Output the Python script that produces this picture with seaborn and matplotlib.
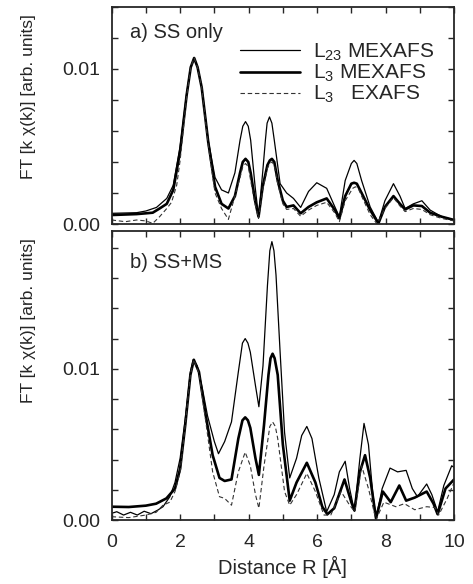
import matplotlib
matplotlib.use('Agg')
import matplotlib.pyplot as plt
import seaborn as sns
from matplotlib.ticker import MultipleLocator, FixedLocator, FixedFormatter

# --- a) SS only ---
a_l23_x = [0, 0.73, 1.0, 1.31, 1.61, 1.8, 2.0, 2.19, 2.31, 2.41, 2.51, 2.63, 2.82, 3.02, 3.21, 3.41, 3.6,
           3.75, 3.83, 3.91, 3.99, 4.06, 4.19, 4.29, 4.41, 4.49, 4.54, 4.61, 4.68, 4.75, 4.92, 5.11, 5.31,
           5.52, 5.75, 5.99, 6.28, 6.52, 6.65, 6.82, 7.0, 7.08, 7.16, 7.3, 7.55, 7.79, 7.98, 8.23, 8.42,
           8.57, 8.81, 9.06, 9.3, 9.64, 10]
a_l23_y = [0.00069, 0.00073, 0.00084, 0.00107, 0.00165, 0.0025, 0.005, 0.0084, 0.0101, 0.0107, 0.0101,
           0.0088, 0.0054, 0.003, 0.0022, 0.002, 0.0033, 0.0054, 0.0063, 0.0066, 0.0063, 0.0054, 0.0024,
           0.00047, 0.0033, 0.0054, 0.0065, 0.0069, 0.0065, 0.0054, 0.0026, 0.002, 0.00165, 0.00107, 0.0021,
           0.00266, 0.0023, 0.0011, 0.00047, 0.0028, 0.0039, 0.0041, 0.0039, 0.0028, 0.0011, 0.0001, 0.0015,
           0.0026, 0.0018, 0.001, 0.0013, 0.0015, 0.0009, 0.00047, 0.00026]

a_l3m_x = [0, 0.73, 1.0, 1.2, 1.4, 1.61, 1.8, 2.0, 2.19, 2.31, 2.41, 2.51, 2.63, 2.82, 3.02, 3.21, 3.41,
           3.6, 3.75, 3.83, 3.91, 3.99, 4.06, 4.19, 4.29, 4.41, 4.55, 4.62, 4.68, 4.75, 4.85, 5.0, 5.11,
           5.31, 5.52, 5.75, 5.99, 6.28, 6.52, 6.65, 6.82, 7.0, 7.08, 7.16, 7.3, 7.55, 7.79, 7.98, 8.23,
           8.42, 8.57, 8.81, 9.06, 9.3, 9.64, 10]
a_l3m_y = [0.00058, 0.00064, 0.00069, 0.00073, 0.001, 0.0013, 0.0022, 0.0047, 0.0083, 0.0101, 0.0107,
           0.0101, 0.0088, 0.0053, 0.0024, 0.0013, 0.001, 0.0018, 0.0033, 0.004, 0.0042, 0.004, 0.0033,
           0.0015, 0.00047, 0.0024, 0.0038, 0.0041, 0.0042, 0.004, 0.0028, 0.0015, 0.0011, 0.0012, 0.00069,
           0.0011, 0.0014, 0.00165, 0.0009, 0.00036, 0.0018, 0.0026, 0.00266, 0.0026, 0.002, 0.0009,
           0.00004, 0.0011, 0.0018, 0.0013, 0.00094, 0.0012, 0.00116, 0.00073, 0.00047, 0.00026]

a_l3e_x = [0, 0.4, 0.73, 1.0, 1.2, 1.4, 1.61, 1.75, 1.9, 2.0, 2.19, 2.31, 2.41, 2.51, 2.63, 2.82, 3.02,
           3.21, 3.41, 3.6, 3.75, 3.83, 3.91, 3.99, 4.06, 4.19, 4.29, 4.41, 4.55, 4.62, 4.68, 4.75, 4.85,
           5.0, 5.11, 5.31, 5.52, 5.75, 5.99, 6.28, 6.52, 6.65, 6.82, 7.04, 7.12, 7.2, 7.3, 7.55, 7.75,
           7.98, 8.23, 8.42, 8.57, 8.81, 9.06, 9.3, 9.64, 10]
a_l3e_y = [0.00026, 0.00015, 0.00026, 0.0002, 0.00004, 0.00047, 0.001, 0.0014, 0.0025, 0.0041, 0.0082,
           0.0101, 0.0107, 0.0101, 0.0088, 0.0051, 0.002, 0.001, 0.0003, 0.0018, 0.003, 0.0037, 0.0039,
           0.0037, 0.0028, 0.0013, 0.00036, 0.0022, 0.0036, 0.0039, 0.004, 0.0038, 0.0026, 0.0013, 0.00094,
           0.001, 0.0005, 0.0009, 0.0012, 0.0014, 0.0007, 0.00015, 0.0015, 0.0023, 0.0024, 0.0023, 0.0018,
           0.0006, 0.0, 0.001, 0.0017, 0.00116, 0.0008, 0.001, 0.00094, 0.0006, 0.00036, 0.0002]

# --- b) SS+MS ---
b_l23_x = [0, 0.15, 0.35, 0.55, 0.75, 0.95, 1.15, 1.35, 1.5, 1.7, 1.85, 2.0, 2.15, 2.3, 2.38, 2.5, 2.65,
           2.8, 3.0, 3.12, 3.3, 3.5, 3.7, 3.82, 3.9, 3.98, 4.05, 4.2, 4.3, 4.42, 4.55, 4.62, 4.68, 4.74, 4.8,
           4.92, 5.05, 5.2, 5.4, 5.55, 5.7, 5.85, 6.05, 6.28, 6.5, 6.65, 6.82, 6.95, 7.09, 7.25, 7.37, 7.5,
           7.62, 7.72, 7.9, 8.13, 8.35, 8.6, 8.78, 8.93, 9.2, 9.35, 9.52, 9.7, 9.93, 10]
b_l23_y = [0.00046, 0.00057, 0.00035, 0.00053, 0.00035, 0.0006, 0.00044, 0.00068, 0.0009, 0.00156,
           0.0025, 0.0041, 0.0067, 0.0098, 0.0106, 0.0102, 0.0087, 0.0069, 0.0052, 0.0044, 0.0052, 0.0065,
           0.0098, 0.0117, 0.012, 0.0117, 0.0111, 0.0089, 0.0075, 0.0102, 0.0155, 0.0178, 0.0184, 0.0178,
           0.0162, 0.0111, 0.0058, 0.0028, 0.0041, 0.0056, 0.0062, 0.0054, 0.0028, 0.00057, 0.0017, 0.0032,
           0.0039, 0.0021, 0.0006, 0.0041, 0.0064, 0.005, 0.0019, 0.00013, 0.0021, 0.00345, 0.0032, 0.0033,
           0.0021, 0.00156, 0.0024, 0.0017, 0.00057, 0.0023, 0.0036, 0.0035]

b_l3m_x = [0, 0.5, 1.0, 1.3, 1.6, 1.85, 2.0, 2.15, 2.3, 2.4, 2.55, 2.75, 2.95, 3.15, 3.3, 3.5, 3.7, 3.82,
           3.9, 3.98, 4.05, 4.2, 4.3, 4.45, 4.58, 4.64, 4.7, 4.76, 4.85, 5.0, 5.2, 5.4, 5.7, 5.95, 6.15, 6.3,
           6.5, 6.8, 7.0, 7.09, 7.25, 7.4, 7.55, 7.72, 7.92, 8.15, 8.4, 8.6, 8.85, 9.2, 9.4, 9.52, 9.75, 10]
b_l3m_y = [0.0009, 0.00088, 0.00097, 0.0011, 0.00145, 0.0021, 0.0034, 0.0063, 0.0096, 0.0106, 0.0098,
           0.0069, 0.0043, 0.0028, 0.0026, 0.0027, 0.0054, 0.0066, 0.0068, 0.0066, 0.0061, 0.0041, 0.003,
           0.0063, 0.0096, 0.0107, 0.011, 0.0107, 0.0096, 0.005, 0.0013, 0.0025, 0.0038, 0.0025, 0.0009,
           0.0004, 0.0008, 0.0027, 0.0012, 0.00066, 0.0032, 0.0043, 0.0028, 0.00013, 0.0019, 0.0012, 0.0023,
           0.0013, 0.0015, 0.0019, 0.0011, 0.0004, 0.0021, 0.0027]

b_l3e_x = [0, 0.5, 1.0, 1.3, 1.5, 1.7, 1.85, 2.0, 2.15, 2.3, 2.4, 2.55, 2.75, 2.95, 3.15, 3.3, 3.5, 3.7,
           3.9, 4.05, 4.2, 4.3, 4.45, 4.62, 4.7, 4.78, 4.85, 5.05, 5.2, 5.4, 5.7, 5.95, 6.2, 6.4, 6.7, 6.95,
           7.1, 7.3, 7.5, 7.72, 7.95, 8.3, 8.55, 8.85, 9.2, 9.45, 9.55, 9.8, 10]
b_l3e_y = [0.00024, 0.00018, 0.00035, 0.00053, 0.001, 0.0012, 0.0019, 0.0032, 0.0063, 0.0096, 0.0106,
           0.0097, 0.0065, 0.0032, 0.00156, 0.00145, 0.001, 0.0032, 0.0045, 0.0036, 0.0017, 0.0008, 0.0036,
           0.0062, 0.0065, 0.0062, 0.0054, 0.0019, 0.001, 0.0017, 0.0031, 0.0019, 0.00035, 0.00035, 0.0019,
           0.001, 0.00057, 0.0036, 0.0021, 0.00004, 0.0012, 0.0009, 0.0011, 0.0007, 0.0009, 0.00084,
           0.00035, 0.00145, 0.0025]

labels = ['L$_{23}$ MEXAFS', 'L$_3$ MEXAFS', 'L$_3$   EXAFS']
ylabel = 'FT [k χ(k)] [arb. units]'

sns.set_style('ticks')
plt.rcParams['font.family'] = ['Liberation Sans', 'DejaVu Sans']
plt.rcParams['mathtext.fontset'] = 'custom'
plt.rcParams['mathtext.rm'] = 'Liberation Sans'
plt.rcParams['mathtext.default'] = 'regular'

fig = plt.figure(figsize=(4.73, 5.84), dpi=100)
ax1 = fig.add_axes([0.236, 0.6164, 0.724, 0.372])
ax2 = fig.add_axes([0.236, 0.109, 0.724, 0.4954])

panels = [
    (ax1, [(a_l23_x, a_l23_y), (a_l3m_x, a_l3m_y), (a_l3e_x, a_l3e_y)], 0.014, 'a) SS only', 0.587),
    (ax2, [(b_l23_x, b_l23_y), (b_l3m_x, b_l3m_y), (b_l3e_x, b_l3e_y)], 0.0191, 'b) SS+MS', 0.692),
]
styles = [dict(lw=0.9, color='black'),
          dict(lw=1.9, color='black'),
          dict(lw=0.8, color='#333333', linestyle=(0, (4, 2.5)))]

for ax, series, ymax, title, ylab_y in panels:
    for (x, y), st, lab in zip(series, styles, labels):
        sns.lineplot(x=x, y=y, ax=ax, label=lab, sort=False, **st)
    ax.set_xlim(0, 10)
    ax.set_ylim(0, ymax)
    ax.xaxis.set_major_locator(MultipleLocator(2))
    ax.xaxis.set_minor_locator(MultipleLocator(1))
    ax.yaxis.set_major_locator(FixedLocator([0, 0.01]))
    ax.yaxis.set_major_formatter(FixedFormatter(['0.00', '0.01']))
    ax.yaxis.set_minor_locator(MultipleLocator(0.002))
    ax.tick_params(which='both', direction='in', top=True, right=True, length=4, width=1)
    ax.tick_params(axis='y', labelsize=14, pad=8.5)
    ax.tick_params(axis='x', labelsize=14, pad=9.5)
    for s in ax.spines.values():
        s.set_linewidth(1.3)
    ax.set_ylabel(ylabel, fontsize=12.5)
    ax.yaxis.set_label_coords(-0.22, ylab_y)
    ax.text(0.053, 0.925, title, transform=ax.transAxes, fontsize=14.5, va='top')

ax1.set_xlabel('')
ax1.tick_params(labelbottom=False)
ax1.legend(loc='upper left', bbox_to_anchor=(0.375, 0.84), frameon=False, handlelength=2.9,
           labelspacing=0.0, handletextpad=0.6, borderaxespad=0, borderpad=0, fontsize=15)
ax2.get_legend().remove()
ax2.set_xlabel('Distance R [Å]', fontsize=14.5)

fig.savefig('out.png', dpi=100)
